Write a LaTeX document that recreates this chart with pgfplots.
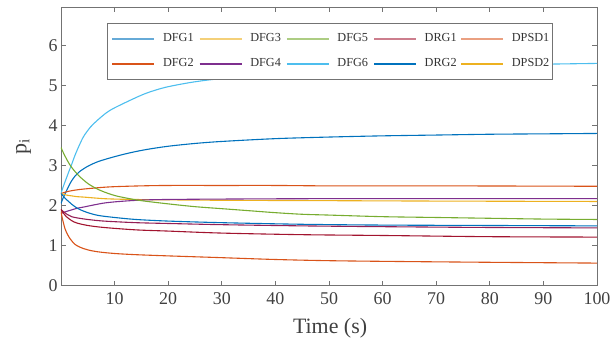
\documentclass[border=0pt]{standalone}
\usepackage{fontspec}
\setmainfont{Liberation Serif}
\usepackage{pgfplots}
\pgfplotsset{compat=1.18}
\definecolor{mblue}{rgb}{0,0.447,0.741}
\definecolor{morange}{rgb}{0.85,0.325,0.098}
\definecolor{myellow}{rgb}{0.929,0.694,0.125}
\definecolor{mpurple}{rgb}{0.494,0.184,0.556}
\definecolor{mgreen}{rgb}{0.466,0.674,0.188}
\definecolor{mlblue}{rgb}{0.301,0.745,0.933}
\definecolor{mdred}{rgb}{0.635,0.078,0.184}
\definecolor{axgray}{rgb}{0.45,0.45,0.45}
\begin{document}
\begin{tikzpicture}
\useasboundingbox (-61bp,-61.5bp) rectangle (555bp,285.5bp);
\begin{axis}[
  scale only axis, width=536bp, height=278.5bp,
  xmin=0, xmax=100, ymin=0, ymax=6.96,
  xtick={10,20,...,100}, ytick={0,1,...,6},
  tick align=inside, major tick length=5bp,
  axis line style={axgray, line width=0.9pt},
  tick style={axgray, line width=0.7pt},
  tick label style={font=\fontsize{18}{18}\selectfont, text=black!75},
  xticklabel style={yshift=-4bp},
  /pgf/number format/assume math mode=true,
  xlabel={Time (s)}, ylabel={p\textsubscript{i}},
  label style={font=\fontsize{22}{22}\selectfont, text=black!75},
  xlabel style={at={(axis description cs:0.502,-0.152)}, anchor=center},
  ylabel style={at={(axis description cs:-0.0700,0.5)}, anchor=center},
  legend columns=5,
  legend style={at={(0.0858,0.9425)}, anchor=north west, draw=axgray, line width=0.8pt,
    font=\fontsize{12.3}{12.3}\selectfont, text=black!80, inner xsep=4.5bp, inner ysep=9.5bp,
    nodes={inner sep=0pt, text height=9bp, text depth=3bp},
    row sep=13bp,
    /tikz/every odd column/.append style={column sep=8bp},
    /tikz/every even column/.append style={column sep=0bp, text width=36bp}},
  legend cell align=left,
  legend image code/.code={\draw[#1, line width=1.2pt] (0bp,0bp) -- (42bp,0bp);},
  every axis plot/.append style={line width=1.1pt},
]
% legend entries (MATLAB column-wise order)
\addlegendimage{mblue!60}\addlegendentry{DFG1}
\addlegendimage{myellow!60}\addlegendentry{DFG3}
\addlegendimage{mgreen!60}\addlegendentry{DFG5}
\addlegendimage{mdred!55}\addlegendentry{DRG1}
\addlegendimage{morange!55}\addlegendentry{DPSD1}
\addlegendimage{morange}\addlegendentry{DFG2}
\addlegendimage{mpurple}\addlegendentry{DFG4}
\addlegendimage{mlblue}\addlegendentry{DFG6}
\addlegendimage{mblue}\addlegendentry{DRG2}
\addlegendimage{myellow}\addlegendentry{DPSD2}
% curves
\addplot[mlblue, smooth, forget plot] coordinates {(0,2.3)(0.5,2.5)(1,2.68)(1.5,2.86)(2,3.03)(2.6,3.25)(3.3,3.47)(4.2,3.72)(5.5,3.96)(6.8,4.13)(8.5,4.32)(10,4.44)(13.4,4.66)(16,4.81)(19.4,4.95)(24,5.07)(28.4,5.15)(35,5.23)(40,5.28)(50,5.36)(60,5.42)(70,5.46)(80,5.5)(90,5.53)(100,5.55)};
\addplot[mblue, smooth, forget plot] coordinates {(0,2.05)(0.5,2.22)(1,2.36)(1.5,2.5)(2,2.62)(2.6,2.73)(3.5,2.85)(5,2.98)(7,3.1)(10,3.22)(13,3.32)(16,3.4)(20,3.48)(25,3.55)(30,3.6)(40,3.67)(50,3.71)(60,3.74)(70,3.76)(80,3.78)(90,3.79)(100,3.8)};
\addplot[morange, smooth, forget plot] coordinates {(0,2.3)(1,2.34)(2,2.37)(3.5,2.4)(5,2.42)(7.5,2.45)(10,2.47)(15,2.49)(20,2.5)(30,2.5)(40,2.5)(50,2.49)(70,2.49)(100,2.48)};
\addplot[myellow, smooth, forget plot] coordinates {(0,2.3)(1,2.26)(2,2.24)(3,2.22)(4.2,2.21)(6,2.19)(8,2.17)(10,2.16)(13.5,2.15)(20,2.14)(30,2.13)(50,2.12)(70,2.11)(100,2.1)};
\addplot[mpurple, smooth, forget plot] coordinates {(0,1.8)(1,1.85)(2,1.89)(3,1.93)(4.2,1.96)(6,2.01)(8,2.06)(10,2.09)(13,2.12)(16,2.14)(20,2.15)(30,2.16)(50,2.17)(100,2.17)};
\addplot[mgreen, smooth, forget plot] coordinates {(0,3.45)(0.5,3.3)(1,3.17)(1.5,3.05)(2,2.95)(2.6,2.85)(3.5,2.72)(5,2.55)(6.5,2.43)(8,2.34)(10,2.25)(12,2.19)(15,2.12)(20,2.04)(25,1.97)(30,1.92)(35,1.87)(40,1.82)(45,1.78)(50,1.76)(60,1.72)(70,1.7)(80,1.68)(90,1.66)(100,1.65)};
\addplot[mblue, smooth, forget plot] coordinates {(0,2.3)(0.5,2.22)(1,2.15)(1.5,2.09)(2,2.03)(2.6,1.97)(3.5,1.9)(5,1.82)(7,1.75)(10,1.7)(14,1.65)(20,1.61)(30,1.57)(45,1.53)(60,1.51)(80,1.5)(100,1.49)};
\addplot[mpurple!40!mdred, smooth, forget plot] coordinates {(0,1.9)(0.5,1.84)(1,1.79)(2,1.72)(3,1.69)(5,1.65)(8,1.61)(14,1.57)(20,1.55)(30,1.52)(45,1.49)(60,1.47)(80,1.45)(100,1.44)};
\addplot[mdred, smooth, forget plot] coordinates {(0,1.9)(0.5,1.8)(1,1.72)(2,1.62)(3,1.56)(5,1.5)(8,1.45)(14,1.39)(20,1.36)(30,1.31)(45,1.27)(60,1.25)(80,1.22)(100,1.21)};
\addplot[morange, smooth, forget plot] coordinates {(0,1.85)(0.3,1.65)(0.75,1.42)(1.2,1.28)(1.8,1.15)(2.6,1.03)(3.5,0.96)(5,0.89)(7,0.84)(10,0.8)(14,0.77)(20,0.74)(29,0.7)(40,0.65)(50,0.62)(63,0.6)(80,0.58)(100,0.56)};
\end{axis}
\end{tikzpicture}
\end{document}
